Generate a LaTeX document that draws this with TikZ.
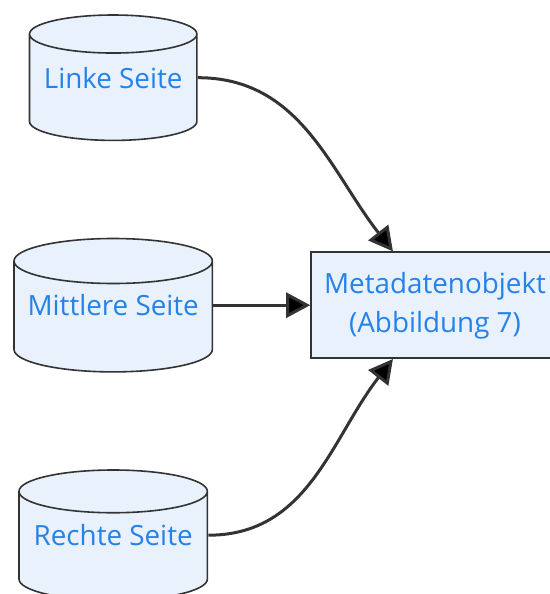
\documentclass[tikz,border=0pt]{standalone}
\usepackage{fontspec}
\setmainfont{Open Sans}
\usetikzlibrary{matrix,positioning,arrows.meta,calc}

\definecolor{nodefill}{RGB}{232,241,252}
\definecolor{nodeline}{RGB}{51,51,51}
\definecolor{nodetext}{RGB}{36,130,232}

\newcommand{\metatext}{\begin{tabular}{@{}c@{}}Metadatenobjekt\\(Abbildung 7)\end{tabular}}

\tikzset{
  store/.style={rectangle, inner sep=0pt, text=nodetext,
    path picture={
      \draw[nodeline, line width=1.6pt, fill=nodefill]
        let \p1=(path picture bounding box.north west),
            \p2=(path picture bounding box.south east),
            \n1={(\x2-\x1)/2-0.8}, \n2={0.1125*(\x2-\x1)} in
        (\x1+0.8pt,\y1-\n2-0.8pt) -- (\x1+0.8pt,\y2+\n2+0.8pt)
          arc[start angle=180, end angle=360, x radius={\n1*1pt}, y radius={\n2*1pt}]
          -- (\x2-0.8pt,\y1-\n2-0.8pt)
          arc[start angle=0, end angle=180, x radius={\n1*1pt}, y radius={\n2*1pt}] -- cycle
        (\x1+0.8pt,\y1-\n2-0.8pt)
          arc[start angle=180, end angle=360, x radius={\n1*1pt}, y radius={\n2*1pt}];
    }},
  meta/.style={rectangle, draw=nodeline, line width=1.6pt, fill=nodefill, text=nodetext, minimum width=248pt, minimum height=106pt, inner sep=0pt},
  flow/.style={draw=nodeline, line width=3pt, -{Triangle[length=24pt,width=25pt]}}
}

\begin{document}
\begin{tikzpicture}[x=1pt, y=-1pt, font=\fontsize{27.8}{39}\selectfont]
  \useasboundingbox (0,0) rectangle (549,594);
  \matrix (m) [matrix of nodes, anchor=north west, inner sep=0pt, row sep=96.5pt, column sep=97pt, nodes={anchor=center}] at (13,14)
  {
 |[store, minimum width=169pt, minimum height=127pt]| Linke Seite & \\
 |[store, minimum width=200pt, minimum height=135pt]| Mittlere Seite & |[meta]| \metatext \\
 |[store, minimum width=190pt, minimum height=132pt]| Rechte Seite & \\
};
  \path[flow]
  (m-1-1) edge [out=0, in=128] (m-2-2.128)
  (m-2-1) edge (m-2-2)
  (m-3-1) edge [out=0, in=-128] (m-2-2.-128);
\end{tikzpicture}
\end{document}
